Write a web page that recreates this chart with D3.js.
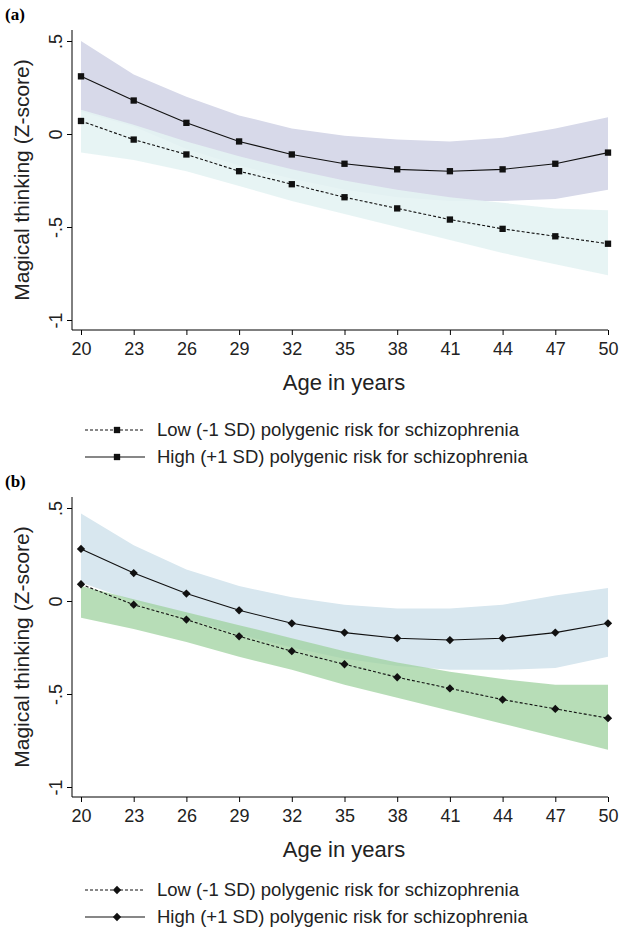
<!DOCTYPE html>
<html><head><meta charset="UTF-8">
<script src="https://d3js.org/d3.v7.min.js"></script>
<style>body{margin:0;background:#fff}text{font-family:"Liberation Sans",Arial,sans-serif;fill:#222}</style>
</head><body><svg width="619" height="929"></svg>
<script>
const ages = [20,23,26,29,32,35,38,41,44,47,50];
const yTicks = [0.5,0,-0.5,-1];
const yTickLabels = [".5","0","-.5","-1"];
// panel (a)
const aHigh = [0.31,0.18,0.06,-0.04,-0.11,-0.16,-0.19,-0.20,-0.19,-0.16,-0.10];
const aHighUp = [0.50,0.32,0.20,0.10,0.03,-0.01,-0.03,-0.04,-0.02,0.03,0.09];
const aHighLo = [0.12,0.04,-0.08,-0.17,-0.24,-0.30,-0.34,-0.36,-0.36,-0.35,-0.30];
const aLow = [0.07,-0.03,-0.11,-0.20,-0.27,-0.34,-0.40,-0.46,-0.51,-0.55,-0.59];
const aLowUp = [0.13,0.05,-0.04,-0.12,-0.19,-0.25,-0.30,-0.34,-0.37,-0.40,-0.41];
const aLowLo = [-0.10,-0.14,-0.20,-0.28,-0.36,-0.43,-0.50,-0.57,-0.64,-0.70,-0.76];
// panel (b)
const bHigh = [0.28,0.15,0.04,-0.05,-0.12,-0.17,-0.20,-0.21,-0.20,-0.17,-0.12];
const bHighUp = [0.47,0.30,0.17,0.08,0.02,-0.02,-0.04,-0.04,-0.02,0.03,0.07];
const bHighLo = [0.10,0.00,-0.09,-0.18,-0.25,-0.31,-0.35,-0.37,-0.37,-0.36,-0.30];
const bLow = [0.09,-0.02,-0.10,-0.19,-0.27,-0.34,-0.41,-0.47,-0.53,-0.58,-0.63];
const bLowUp = [0.08,0.01,-0.06,-0.13,-0.20,-0.27,-0.33,-0.38,-0.42,-0.45,-0.45];
const bLowLo = [-0.09,-0.15,-0.22,-0.30,-0.37,-0.45,-0.52,-0.59,-0.66,-0.73,-0.80];
const legendLabels = ["Low (-1 SD) polygenic risk for schizophrenia","High (+1 SD) polygenic risk for schizophrenia"];

const svg = d3.select("svg");
const x = d3.scaleLinear().domain([20,50]).range([81,608]);

function panel(top, legTop, tag, marker, high, hUp, hLo, low, lUp, lLo, hCol, lCol, lOp){
  const y = d3.scaleLinear().domain([0.5,-1]).range([top+41, top+320]);
  const g = svg.append("g");
  g.append("text").attr("x",5).attr("y",top+20).text(tag)
    .style("font-family","Liberation Serif").style("font-weight","bold").style("font-size","17px").style("fill","#000");
  const area = (up,lo) => d3.area().x((d,i)=>x(ages[i])).y0((d,i)=>y(lo[i])).y1((d,i)=>y(up[i]))(ages);
  g.append("path").attr("d",area(hUp,hLo)).attr("fill",hCol);
  g.append("path").attr("d",area(lUp,lLo)).attr("fill",lCol).attr("fill-opacity",lOp);
  const line = v => d3.line().x((d,i)=>x(ages[i])).y((d,i)=>y(v[i]))(ages);
  g.append("path").attr("d",line(low)).attr("fill","none").attr("stroke","#111").attr("stroke-width",1.1).attr("stroke-dasharray","3,2");
  g.append("path").attr("d",line(high)).attr("fill","none").attr("stroke","#111").attr("stroke-width",1.1);
  const sym = d3.symbol().type(marker==="sq"?d3.symbolSquare:d3.symbolDiamond2).size(marker==="sq"?40:44);
  [low,high].forEach(v=>{
    g.selectAll(null).data(ages).enter().append("path").attr("d",sym)
      .attr("transform",(d,i)=>`translate(${x(d)},${y(v[i])})`).attr("fill","#111");
  });
  const axisY = top+330;
  const xa = g.append("g").attr("transform",`translate(0,${axisY})`)
    .call(d3.axisBottom(x).tickValues(ages).tickSize(5).tickSizeOuter(0));
  xa.select(".domain").attr("d","M72,0H608").attr("stroke","#000");
  xa.selectAll("text").style("font-size","18px").attr("dy","0.95em");
  const ya = g.append("g").attr("transform","translate(72,0)")
    .call(d3.axisLeft(y).tickValues(yTicks).tickFormat((d,i)=>yTickLabels[i]).tickSize(5).tickSizeOuter(0));
  ya.select(".domain").attr("d",`M0,${top+30}V${axisY}`);
  ya.selectAll("text").style("font-size","18px").attr("text-anchor","middle")
    .attr("transform","rotate(-90)").attr("x",0).attr("y",-10).attr("dy",0);
  g.append("text").attr("transform",`translate(29,${top+180}) rotate(-90)`).attr("text-anchor","middle")
    .style("font-size","21px").text("Magical thinking (Z-score)");
  g.append("text").attr("x",344).attr("y",top+390).attr("text-anchor","middle").style("font-size","22px").text("Age in years");
  legendLabels.forEach((t,i)=>{
    const ly = top+legTop+i*27;
    g.append("line").attr("x1",85).attr("x2",145).attr("y1",ly).attr("y2",ly).attr("stroke","#111")
      .attr("stroke-width",1.1).attr("stroke-dasharray",i===0?"3,2":null);
    g.append("path").attr("d",sym).attr("transform",`translate(117,${ly})`).attr("fill","#111");
    g.append("text").attr("x",157).attr("y",ly+6).style("font-size","18.5px").text(t);
  });
}
panel(0,430,"(a)","sq",aHigh,aHighUp,aHighLo,aLow,aLowUp,aLowLo,"#d7d9e9","#e4f3f3",0.9);
panel(467,423,"(b)","di",bHigh,bHighUp,bHighLo,bLow,bLowUp,bLowLo,"#d8e7ef","#9fd29f",0.75);
</script></body></html>
